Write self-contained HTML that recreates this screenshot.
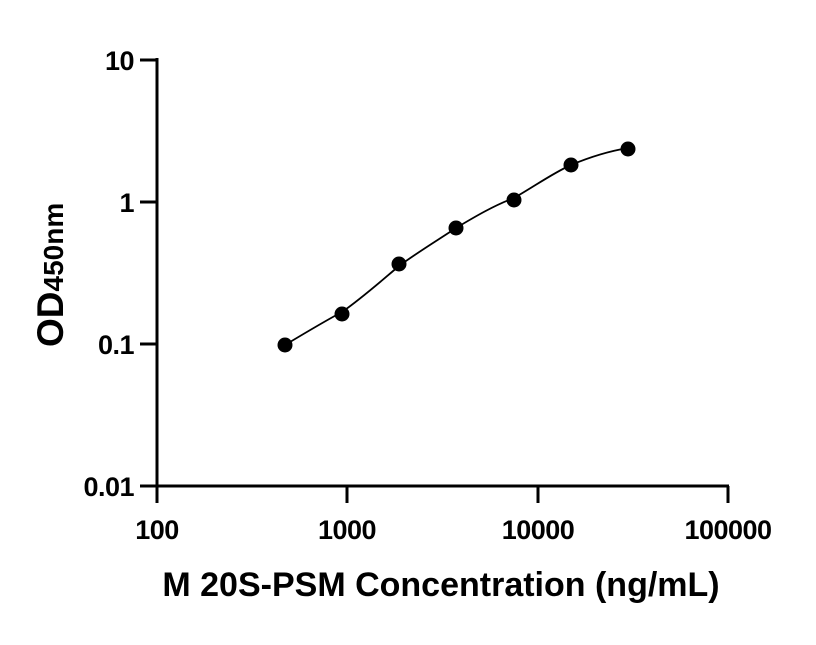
<!DOCTYPE html>
<html><head><style>body{margin:0;background:#fff}</style></head><body>
<svg width="816" height="640" xmlns="http://www.w3.org/2000/svg" font-family="Liberation Sans, Arial, sans-serif" font-weight="bold">
<g stroke="#000" stroke-width="3" fill="none">
<line x1="157" y1="58" x2="157" y2="487"/>
<line x1="155.5" y1="486" x2="729" y2="486"/>
<line x1="140" y1="60" x2="157" y2="60"/>
<line x1="140" y1="202" x2="157" y2="202"/>
<line x1="140" y1="344" x2="157" y2="344"/>
<line x1="140" y1="486" x2="157" y2="486"/>
<line x1="157" y1="486" x2="157" y2="503"/>
<line x1="347" y1="486" x2="347" y2="503"/>
<line x1="538" y1="486" x2="538" y2="503"/>
<line x1="728" y1="486" x2="728" y2="503"/>
</g>
<g font-size="27" text-anchor="end" letter-spacing="-0.5">
<text x="134" y="70">10</text>
<text x="134" y="212">1</text>
<text x="134" y="354">0.1</text>
<text x="134" y="496">0.01</text>
</g>
<g font-size="27" text-anchor="middle" letter-spacing="-0.5">
<text x="157" y="539">100</text>
<text x="347" y="539">1000</text>
<text x="538" y="539">10000</text>
<text x="728" y="539">100000</text>
</g>
<text x="441" y="596" font-size="34" text-anchor="middle">M 20S-PSM Concentration (ng/mL)</text>
<text transform="translate(63,347) rotate(-90)" font-size="37">OD<tspan font-size="28">450nm</tspan></text>
<path d="M285,345 C305,333 325,321 342,312 C362,298 380,282 399,266 C418,252 438,240 456,228 C476,216 495,205 514,198 C535,186 553,173 571,165 C590,157 610,151 628,148" stroke="#000" stroke-width="1.8" fill="none"/>
<g fill="#000">
<circle cx="285" cy="345" r="7.5"/>
<circle cx="342" cy="314" r="7.5"/>
<circle cx="399" cy="264" r="7.5"/>
<circle cx="456" cy="228" r="7.5"/>
<circle cx="514" cy="200" r="7.5"/>
<circle cx="571" cy="165" r="7.5"/>
<circle cx="628" cy="149" r="7.5"/>
</g>
</svg>
</body></html>
